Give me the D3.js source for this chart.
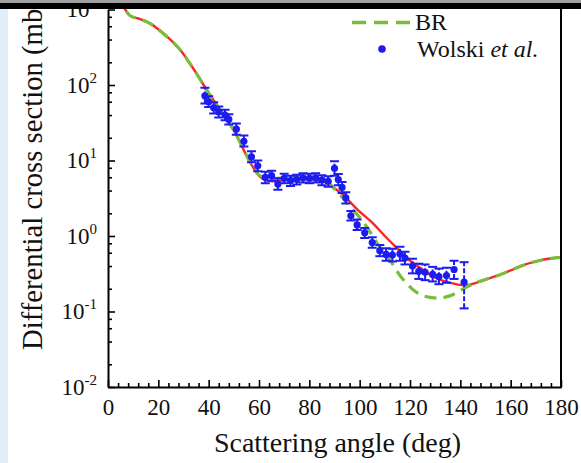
<!DOCTYPE html>
<html>
<head>
<meta charset="utf-8">
<script src="https://cdn.jsdelivr.net/npm/d3@7"></script>
<style>
  body { margin: 0; background: #fff; }
  svg { display: block; }
  text { font-family: "Liberation Serif", "Times New Roman", serif; fill: #111; }
</style>
</head>
<body>
<script>
/* global d3 */

// model curve (red, solid)
const modelAngle = [4, 5, 6, 7, 8, 9, 10, 12, 14, 17, 20, 23, 26, 29, 32, 35, 38, 41, 44, 47, 50, 53, 56, 58, 60, 62, 65, 70, 75, 80, 85, 88, 90, 93, 95, 100, 105, 110, 115, 120, 125, 130, 135, 140, 143, 150, 155, 160, 165, 170, 175, 180]
const modelValue = [1600, 1300, 1100, 980, 880, 820, 790, 760, 720, 645, 545, 450, 365, 285, 205, 145, 100, 70, 50, 36, 25, 16, 10, 7.8, 6.3, 5.6, 5.3, 5.5, 5.7, 5.7, 5.3, 4.8, 4.3, 3.6, 3.1, 2.1, 1.5, 1.0, 0.68, 0.47, 0.36, 0.28, 0.245, 0.225, 0.225, 0.265, 0.30, 0.35, 0.41, 0.46, 0.50, 0.52]

// BR curve (green, dashed)
const brAngle = [4, 5, 6, 7, 8, 9, 10, 12, 14, 17, 20, 23, 26, 29, 32, 35, 38, 41, 44, 47, 50, 53, 56, 58, 60, 62, 65, 70, 75, 80, 85, 88, 90, 93, 95, 98, 101, 104, 107, 110, 113, 116, 119, 122, 125, 128, 131, 134, 137, 140, 143, 146, 150, 155, 160, 165, 170, 175, 180]
const brValue = [1600, 1300, 1100, 980, 880, 820, 790, 760, 720, 645, 545, 450, 365, 285, 205, 145, 100, 70, 50, 36, 25, 16, 10.2, 8.0, 6.4, 6.0, 5.8, 5.9, 6.1, 6.1, 5.6, 4.9, 4.2, 3.3, 2.7, 2.1, 1.6, 1.15, 0.8, 0.58, 0.43, 0.30, 0.23, 0.185, 0.163, 0.154, 0.151, 0.155, 0.167, 0.19, 0.215, 0.24, 0.265, 0.30, 0.35, 0.41, 0.46, 0.50, 0.52]

// Wolski et al. data
const wolskiAngle = [38.5, 40, 42, 44, 46.5, 48, 51, 54, 57, 59.5, 62.5, 65, 67.5, 70, 72.5, 75, 77.5, 80, 82.5, 85, 87.5, 90, 91.5, 93, 94.5, 96.5, 99, 102, 105, 108, 110.5, 113, 116, 118, 121, 123.5, 126, 129, 131.5, 134.5, 137.5, 141.5]
const wolskiValue = [72, 60, 50, 44, 40, 35, 26, 18, 11.2, 8.5, 6.0, 6.3, 4.9, 5.8, 5.4, 5.6, 5.9, 5.8, 5.9, 5.5, 5.3, 7.9, 5.6, 4.4, 3.2, 1.85, 1.4, 1.1, 0.82, 0.64, 0.57, 0.56, 0.58, 0.51, 0.40, 0.34, 0.33, 0.31, 0.29, 0.30, 0.36, 0.245]
const wolskiLow = [57, 51, 42, 37, 34, 30, 22, 15.3, 9.5, 7.2, 5.0, 5.4, 4.1, 5.0, 4.6, 4.8, 5.1, 5.0, 5.1, 4.7, 4.5, 6.3, 4.7, 3.7, 2.7, 1.6, 1.2, 0.94, 0.7, 0.54, 0.47, 0.46, 0.47, 0.42, 0.32, 0.27, 0.26, 0.25, 0.23, 0.24, 0.27, 0.11]
const wolskiHigh = [92, 71, 59, 52, 47, 41, 31, 21.5, 13.3, 10, 7.1, 7.3, 5.8, 6.7, 6.3, 6.5, 6.8, 6.7, 6.8, 6.4, 6.2, 9.8, 6.6, 5.2, 3.8, 2.15, 1.65, 1.28, 0.96, 0.76, 0.69, 0.68, 0.72, 0.62, 0.50, 0.43, 0.42, 0.39, 0.37, 0.38, 0.47, 0.45]

const xTicks = d3.range(0, 181, 20)
const xMinor = d3.range(0, 181, 4).filter(v => v % 20 !== 0)
const yTicks = [0.01, 0.1, 1, 10, 100, 1000]
const yExp = ['-2', '-1', '0', '1', '2', '3']

const W = 581, H = 463
const mLeft = 108, mRight = 561, mTop = 9.5, mBottom = 387

const svg = d3.select('body').append('svg')
  .attr('width', W)
  .attr('height', H)

const x = d3.scaleLinear().domain([0, 180]).range([mLeft, mRight])
const y = d3.scaleLog().domain([0.01, 1000]).range([mBottom, mTop])

// light strip on the left
svg.append('rect').attr('x', 0).attr('y', 0).attr('width', 8).attr('height', H).attr('fill', '#e2edf8')

svg.append('clipPath').attr('id', 'plot')
  .append('rect').attr('x', mLeft).attr('y', mTop - 4).attr('width', mRight - mLeft).attr('height', mBottom - mTop + 4)

const g = svg.append('g').attr('clip-path', 'url(#plot)')

const line = d3.line()
  .x(d => x(d[0]))
  .y(d => y(d[1]))
  .curve(d3.curveCatmullRom)

g.append('path')
  .datum(d3.zip(modelAngle, modelValue))
  .attr('d', line)
  .attr('fill', 'none')
  .attr('stroke', '#ff2424')
  .attr('stroke-width', 2.4)

g.append('path')
  .datum(d3.zip(brAngle, brValue))
  .attr('d', line)
  .attr('fill', 'none')
  .attr('stroke', '#79bd3a')
  .attr('stroke-width', 3.2)
  .attr('stroke-dasharray', '12,7')

// error bars + points
const pts = wolskiAngle.map((a, i) => ({ a, v: wolskiValue[i], lo: wolskiLow[i], hi: wolskiHigh[i] }))
const blue = '#1c1cf0'
const eb = g.append('g').attr('stroke', blue).attr('stroke-width', 2)

eb.selectAll('line.bar').data(pts).enter().append('line')
  .attr('x1', d => x(d.a)).attr('x2', d => x(d.a))
  .attr('y1', d => y(d.lo)).attr('y2', d => y(d.hi))
  .attr('stroke-dasharray', '5,2')

eb.selectAll('line.capl').data(pts).enter().append('line')
  .attr('x1', d => x(d.a) - 4.5).attr('x2', d => x(d.a) + 4.5)
  .attr('y1', d => y(d.lo)).attr('y2', d => y(d.lo))

eb.selectAll('line.caph').data(pts).enter().append('line')
  .attr('x1', d => x(d.a) - 4.5).attr('x2', d => x(d.a) + 4.5)
  .attr('y1', d => y(d.hi)).attr('y2', d => y(d.hi))

g.selectAll('circle').data(pts).enter().append('circle')
  .attr('cx', d => x(d.a)).attr('cy', d => y(d.v))
  .attr('r', 3.6)
  .attr('fill', blue)

// axes
const xAxis = svg.append('g')
  .attr('transform', `translate(0,${mBottom})`)
  .call(d3.axisBottom(x).tickValues(xTicks).tickSizeInner(-7).tickSizeOuter(0).tickPadding(12))
xAxis.selectAll('text').attr('font-size', 23).attr('fill', '#111')

svg.append('g')
  .attr('transform', `translate(0,${mBottom})`)
  .call(d3.axisBottom(x).tickValues(xMinor).tickSizeInner(-4).tickFormat(''))
  .call(a => a.select('.domain').remove())

const yMinor = []
yTicks.slice(0, -1).forEach(t => [2, 4, 6, 8].forEach(m => yMinor.push(t * m)))

const yAxis = svg.append('g')
  .attr('transform', `translate(${mLeft},0)`)
  .call(d3.axisLeft(y).tickValues(yTicks).tickSizeInner(-7).tickSizeOuter(0).tickPadding(11).tickFormat(''))

yAxis.selectAll('.tick text').each(function (d, i) {
  const t = d3.select(this).attr('font-size', 23).attr('fill', '#111')
  t.append('tspan').text('10')
  t.append('tspan').text(yExp[i]).attr('font-size', 15).attr('dy', -10)
})

svg.append('g')
  .attr('transform', `translate(${mLeft},0)`)
  .call(d3.axisLeft(y).tickValues(yMinor).tickSizeInner(-4).tickFormat(''))
  .call(a => a.select('.domain').remove())

svg.selectAll('.domain').attr('stroke-width', 2)
svg.selectAll('.tick line').attr('stroke-width', 1.6)

// right frame
svg.append('line')
  .attr('x1', mRight).attr('x2', mRight).attr('y1', 0).attr('y2', mBottom + 1)
  .attr('stroke', '#000').attr('stroke-width', 2)

// axis titles
svg.append('text')
  .attr('x', (mLeft + mRight) / 2 + 3).attr('y', 452)
  .attr('text-anchor', 'middle')
  .attr('font-size', 28)
  .text('Scattering angle (deg)')

svg.append('text')
  .attr('transform', 'translate(42,350) rotate(-90)')
  .attr('font-size', 28.7)
  .text('Differential cross section (mb/sr)')

// legend
svg.append('line')
  .attr('x1', 352).attr('x2', 410).attr('y1', 22.5).attr('y2', 22.5)
  .attr('stroke', '#79bd3a').attr('stroke-width', 3.5).attr('stroke-dasharray', '14,8')
svg.append('text').attr('x', 415).attr('y', 30).attr('font-size', 24).text('BR')

svg.append('circle').attr('cx', 382).attr('cy', 49).attr('r', 3.8).attr('fill', blue)
const wl = svg.append('text').attr('x', 417).attr('y', 57).attr('font-size', 24)
wl.append('tspan').text('Wolski ')
wl.append('tspan').attr('font-style', 'italic').text('et al.')

// top bar of the screenshot
svg.append('rect').attr('x', 0).attr('y', 0).attr('width', W).attr('height', 3).attr('fill', '#a0a0a0')
svg.append('rect').attr('x', 0).attr('y', 3).attr('width', W).attr('height', 6).attr('fill', '#000')
</script>
</body>
</html>
